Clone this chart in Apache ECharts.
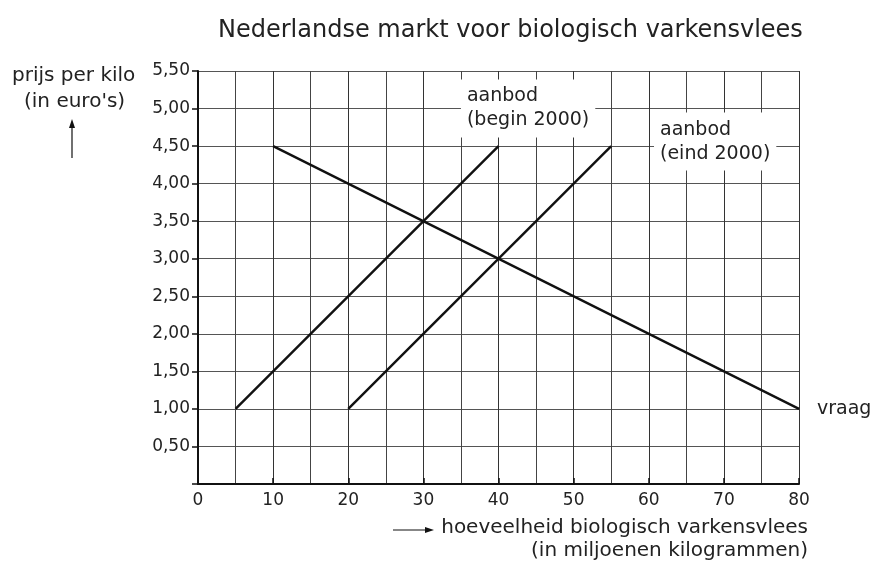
<!DOCTYPE html>
<html>
<head>
<meta charset="utf-8">
<script src="https://cdn.jsdelivr.net/npm/echarts@6/dist/echarts.min.js"></script>
<style>
  html, body { margin: 0; padding: 0; background: #fff; }
  #chart { width: 872px; height: 562px; }
</style>
</head>
<body>
<div id="chart"></div>
<script>
// vraag (demand) en aanbod (supply) lijnen
var vraagQty = [10, 80];
var vraagPrijs = [4.5, 1.0];
var aanbodBeginQty = [5, 40];
var aanbodBeginPrijs = [1.0, 4.5];
var aanbodEindQty = [20, 55];
var aanbodEindPrijs = [1.0, 4.5];

var font = 'DejaVu Sans';
var ink = '#222';

function pairs(xs, ys) {
  var out = [];
  for (var i = 0; i < xs.length; i++) out.push([xs[i], ys[i]]);
  return out;
}

var chart = echarts.init(document.getElementById('chart'), null, { renderer: 'canvas' });

var boxLabel = {
  show: true,
  position: 'right',
  distance: 0,
  backgroundColor: '#fff',
  padding: [5, 6],
  color: ink,
  fontFamily: font,
  fontSize: 19,
  lineHeight: 24,
  align: 'left'
};

chart.setOption({
  animation: false,
  title: {
    text: 'Nederlandse markt voor biologisch varkensvlees',
    left: 218,
    top: 19,
    padding: 0,
    textStyle: { fontFamily: font, fontSize: 24, fontWeight: 'normal', color: ink }
  },
  grid: { left: 198, right: 73, top: 71, bottom: 78 },
  xAxis: {
    type: 'value',
    min: 0,
    max: 80,
    interval: 10,
    axisLine: { show: true, onZero: false, lineStyle: { color: '#111', width: 2 } },
    axisTick: { show: true, inside: true, length: 6, lineStyle: { color: '#111', width: 1.5 } },
    axisLabel: { color: ink, fontFamily: font, fontSize: 17, margin: 8 },
    splitLine: { show: true, lineStyle: { color: '#333', width: 1 } },
    minorTick: { show: false, splitNumber: 2 },
    minorSplitLine: { show: true, lineStyle: { color: '#444', width: 1 } }
  },
  yAxis: {
    type: 'value',
    min: 0,
    max: 5.5,
    interval: 0.5,
    axisLine: { show: true, lineStyle: { color: '#111', width: 2 } },
    axisTick: { show: true, length: 6, lineStyle: { color: '#111', width: 1.5 } },
    axisLabel: {
      color: ink, fontFamily: font, fontSize: 17, margin: 8,
      formatter: function (v) { return v === 0 ? '' : v.toFixed(2).replace('.', ','); }
    },
    splitLine: { show: true, lineStyle: { color: '#555', width: 1 } }
  },
  series: [
    {
      name: 'vraag',
      type: 'line',
      data: pairs(vraagQty, vraagPrijs),
      symbol: 'none',
      lineStyle: { color: '#111', width: 2.4 },
      endLabel: { show: true, formatter: 'vraag', distance: 18, color: ink, fontFamily: font, fontSize: 19 },
      z: 3
    },
    {
      name: 'aanbod (begin 2000)',
      type: 'line',
      data: pairs(aanbodBeginQty, aanbodBeginPrijs),
      symbol: 'none',
      lineStyle: { color: '#111', width: 2.4 },
      markPoint: {
        symbol: 'circle',
        symbolSize: 0,
        data: [{ coord: [35, 5.0], label: Object.assign({}, boxLabel, { formatter: 'aanbod\n(begin 2000)' }) }]
      },
      z: 3
    },
    {
      name: 'aanbod (eind 2000)',
      type: 'line',
      data: pairs(aanbodEindQty, aanbodEindPrijs),
      symbol: 'none',
      lineStyle: { color: '#111', width: 2.4 },
      markPoint: {
        symbol: 'circle',
        symbolSize: 0,
        data: [{ coord: [60.7, 4.56], label: Object.assign({}, boxLabel, { formatter: 'aanbod\n(eind 2000)' }) }]
      },
      z: 3
    }
  ],
  graphic: [
    { type: 'text', left: 12, top: 66, style: { text: 'prijs per kilo', font: '20px "DejaVu Sans"', fill: ink } },
    { type: 'text', left: 24, top: 92, style: { text: "(in euro's)", font: '20px "DejaVu Sans"', fill: ink } },
    { type: 'line', shape: { x1: 72, y1: 158, x2: 72, y2: 124 }, style: { stroke: '#111', lineWidth: 1.2 } },
    { type: 'polygon', shape: { points: [[72, 119], [69, 128], [75, 128]] }, style: { fill: '#111' } },
    { type: 'line', shape: { x1: 393, y1: 530, x2: 428, y2: 530 }, style: { stroke: '#111', lineWidth: 1.2 } },
    { type: 'polygon', shape: { points: [[434, 530], [425, 527], [425, 533]] }, style: { fill: '#111' } },
    { type: 'text', right: 64, top: 518, style: { text: 'hoeveelheid biologisch varkensvlees', font: '20px "DejaVu Sans"', fill: ink } },
    { type: 'text', right: 64, top: 541, style: { text: '(in miljoenen kilogrammen)', font: '20px "DejaVu Sans"', fill: ink } }
  ]
});
</script>
</body>
</html>
